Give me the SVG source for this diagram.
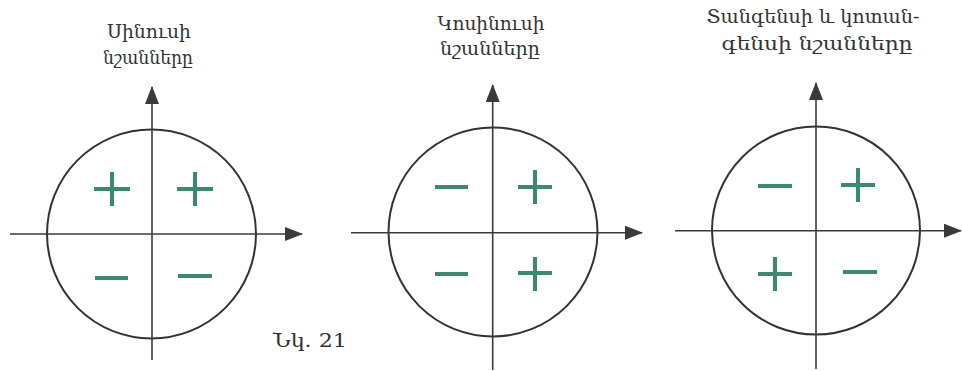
<svg xmlns="http://www.w3.org/2000/svg" width="962" height="371" viewBox="0 0 962 371">
<defs>
<marker id="ah" markerUnits="userSpaceOnUse" markerWidth="18" markerHeight="14" refX="17" refY="7" orient="auto">
<path d="M0,0 L18,7 L0,14 z" fill="#3a3a3a"/>
</marker>
<style>
.ax{stroke:#3a3a3a;stroke-width:1.6;fill:none}
.ci{stroke:#333;stroke-width:2;fill:none}
.sg{stroke:#3a8a6c;stroke-width:4;fill:none}
.t{font-family:"DejaVu Serif","Noto Sans",serif;font-size:19px;fill:#333;text-anchor:middle}
</style>
</defs>
<rect width="962" height="371" fill="#fff"/>
<g id="sin">
<text class="t" x="149" y="38" textLength="84" lengthAdjust="spacingAndGlyphs">Սինուսի</text>
<text class="t" x="148" y="64" textLength="90" lengthAdjust="spacingAndGlyphs">նշանները</text>
<circle class="ci" cx="151.5" cy="234" r="104.5"/>
<g class="sg">
<path d="M94,189 H130 M112,172 V206"/>
<path d="M177,189 H213 M195,172 V206"/>
<path d="M95,278 H128"/>
<path d="M178,276 H212"/>
</g>
</g>
<g id="cos">
<text class="t" x="491" y="30" textLength="107" lengthAdjust="spacingAndGlyphs">Կոսինուսի</text>
<text class="t" x="490" y="55" textLength="100" lengthAdjust="spacingAndGlyphs">նշանները</text>
<circle class="ci" cx="493" cy="232" r="104.5"/>
<g class="sg">
<path d="M435,187 H468"/>
<path d="M518,187 H552 M535,170 V204"/>
<path d="M435,274 H468"/>
<path d="M518,273 H552 M535,257 V291"/>
</g>
</g>
<g id="tan">
<text class="t" x="813" y="23" textLength="213" lengthAdjust="spacingAndGlyphs">Տանգենսի և կոտան-</text>
<text class="t" x="817" y="50" textLength="191" lengthAdjust="spacingAndGlyphs">գենսի նշանները</text>
<circle class="ci" cx="816" cy="230.5" r="104"/>
<g class="sg">
<path d="M758,186 H792"/>
<path d="M841,185 H875 M858,168 V202"/>
<path d="M758,274 H792 M775,257 V291"/>
<path d="M843,272 H877"/>
</g>
</g>
<g id="caption">
<text class="t" x="310" y="347" textLength="74" lengthAdjust="spacingAndGlyphs">Նկ. 21</text>
</g>
<g id="connectors">
<path class="ax" d="M10,234 H302" marker-end="url(#ah)"/>
<path class="ax" d="M152,360 V87" marker-end="url(#ah)"/>
<path class="ax" d="M351,232.7 H642" marker-end="url(#ah)"/>
<path class="ax" d="M492.7,370 V85" marker-end="url(#ah)"/>
<path class="ax" d="M675,230.7 H961" marker-end="url(#ah)"/>
<path class="ax" d="M816,369 V83" marker-end="url(#ah)"/>
</g>
</svg>
